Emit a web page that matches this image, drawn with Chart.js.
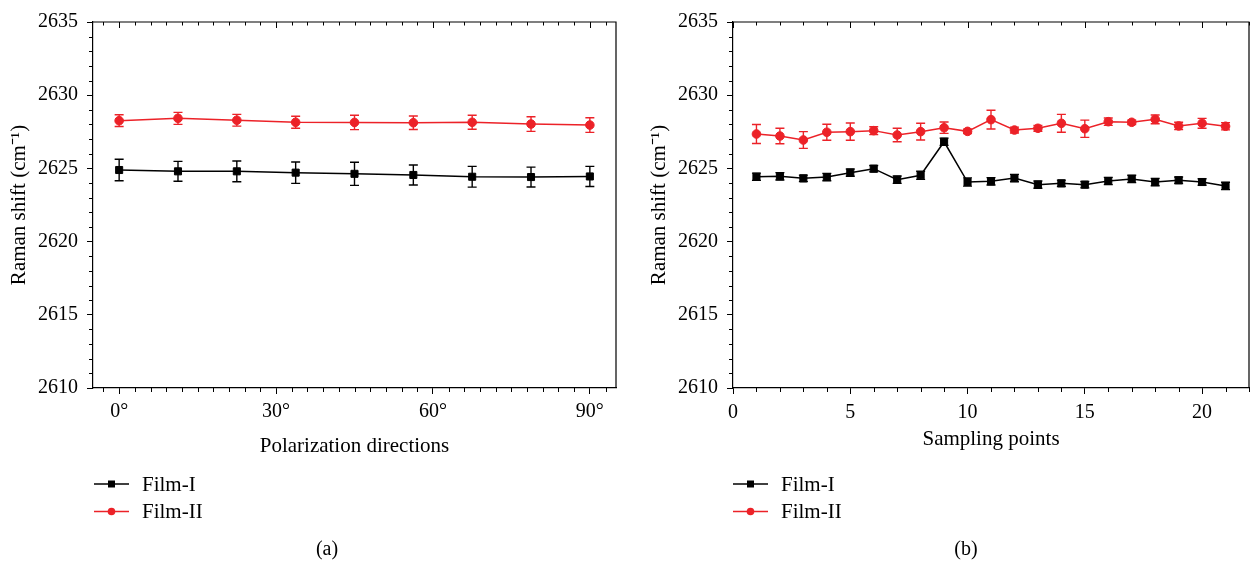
<!DOCTYPE html>
<html>
<head>
<meta charset="utf-8">
<script src="https://cdn.jsdelivr.net/npm/chart.js@4.4.0/dist/chart.umd.min.js"></script>
<style>
html, body { margin: 0; padding: 0; background: #fff; width: 1255px; height: 565px; overflow: hidden; }
canvas { position: absolute; top: 0; }
#ca { left: 0; }
#cb { left: 640px; }
.cap { position: absolute; top: 537px; font: 20px "Liberation Serif", "Times New Roman", serif; line-height: 22px; color: #000; transform: translateX(-50%); white-space: nowrap; }
</style>
</head>
<body>
<canvas id="ca" width="640" height="565"></canvas>
<canvas id="cb" width="615" height="565"></canvas>
<div class="cap" id="capA" style="left:327px">(a)</div>
<div class="cap" id="capB" style="left:966px">(b)</div>
<script>
// ---------- data ----------
const seriesNames = ['Film-I', 'Film-II'];
const captions = ['(a)', '(b)'];

const anglesA = [0, 11.25, 22.5, 33.75, 45, 56.25, 67.5, 78.75, 90];
const film1A = [2624.89, 2624.80, 2624.80, 2624.71, 2624.63, 2624.55, 2624.43, 2624.41, 2624.45];
const film1AErr = [0.73, 0.68, 0.71, 0.73, 0.79, 0.68, 0.71, 0.68, 0.69];
const film2A = [2628.26, 2628.42, 2628.29, 2628.15, 2628.14, 2628.12, 2628.15, 2628.03, 2627.96];
const film2AErr = [0.40, 0.41, 0.40, 0.41, 0.49, 0.46, 0.48, 0.50, 0.50];

const pointsB = [1, 2, 3, 4, 5, 6, 7, 8, 9, 10, 11, 12, 13, 14, 15, 16, 17, 18, 19, 20, 21];
const film1B = [2624.43, 2624.46, 2624.32, 2624.41, 2624.71, 2624.98, 2624.23, 2624.53, 2626.82, 2624.07, 2624.12,
                2624.34, 2623.89, 2623.98, 2623.89, 2624.14, 2624.28, 2624.07, 2624.19, 2624.07, 2623.80];
const film1BErr = [0.25, 0.25, 0.22, 0.25, 0.25, 0.22, 0.25, 0.28, 0.25, 0.28, 0.25,
                   0.25, 0.25, 0.22, 0.22, 0.25, 0.25, 0.25, 0.22, 0.22, 0.25];
const film2B = [2627.35, 2627.21, 2626.94, 2627.47, 2627.51, 2627.58, 2627.28, 2627.51, 2627.78, 2627.53, 2628.33,
                2627.62, 2627.74, 2628.08, 2627.71, 2628.19, 2628.15, 2628.35, 2627.90, 2628.08, 2627.88];
const film2BErr = [0.65, 0.53, 0.57, 0.55, 0.59, 0.27, 0.46, 0.57, 0.39, 0.15, 0.64,
                   0.20, 0.20, 0.61, 0.59, 0.25, 0.15, 0.30, 0.25, 0.34, 0.25];

const yTicks = [2610, 2615, 2620, 2625, 2630, 2635];
const xTicksA = [0, 30, 60, 90];
const xTicksB = [0, 5, 10, 15, 20];

// ---------- styling ----------
const FONT = '"Liberation Serif", "Times New Roman", serif';
const BLACK = '#000000';
const RED = '#ec2228';
Chart.defaults.font.family = FONT;
Chart.defaults.color = '#000';

// box, top ticks and minor ticks
const boxPlugin = {
  id: 'boxTicks',
  afterDraw(chart, args, o) {
    const { ctx, chartArea: a, scales: { x, y } } = chart;
    ctx.save();
    ctx.strokeStyle = '#000';
    ctx.lineWidth = 1.2;
    ctx.beginPath();
    ctx.moveTo(a.left, a.top);
    ctx.lineTo(a.right, a.top);
    ctx.lineTo(a.right, a.bottom);
    ctx.stroke();
    ctx.lineWidth = 1;
    ctx.beginPath();
    for (let v = Math.ceil(x.min / o.xMinor) * o.xMinor; v <= x.max + 1e-9; v += o.xMinor) {
      const px = Math.round(x.getPixelForValue(v)) + 0.5;
      const major = o.xMajor.indexOf(v) >= 0;
      ctx.moveTo(px, a.top);
      ctx.lineTo(px, a.top + (major ? 6 : 3.5));
      if (!major) {
        ctx.moveTo(px, a.bottom);
        ctx.lineTo(px, a.bottom + 4);
      }
    }
    for (let v = Math.ceil(y.min / o.yMinor) * o.yMinor; v <= y.max + 1e-9; v += o.yMinor) {
      const major = o.yMajor.indexOf(v) >= 0;
      if (major) continue;
      const py = Math.round(y.getPixelForValue(v)) + 0.5;
      ctx.moveTo(a.left - 4, py);
      ctx.lineTo(a.left, py);
    }
    ctx.stroke();
    ctx.restore();
  }
};

// error bars
const errorPlugin = {
  id: 'errBars',
  afterDatasetsDraw(chart) {
    const { ctx, scales: { y } } = chart;
    chart.data.datasets.forEach((ds, i) => {
      const meta = chart.getDatasetMeta(i);
      ctx.save();
      ctx.strokeStyle = ds.borderColor;
      ctx.lineWidth = 1.4;
      ctx.beginPath();
      meta.data.forEach((pt, j) => {
        const v = ds.data[j].y, e = ds.errors[j];
        const y1 = y.getPixelForValue(v + e), y2 = y.getPixelForValue(v - e);
        const x = pt.x;
        ctx.moveTo(x, y1); ctx.lineTo(x, y2);
        ctx.moveTo(x - 4.5, y1); ctx.lineTo(x + 4.5, y1);
        ctx.moveTo(x - 4.5, y2); ctx.lineTo(x + 4.5, y2);
      });
      ctx.stroke();
      ctx.restore();
    });
  }
};

// legend below plot (vertical list)
const legendPlugin = {
  id: 'sideLegend',
  afterDraw(chart, args, o) {
    const { ctx } = chart;
    ctx.save();
    chart.data.datasets.forEach((ds, i) => {
      const cy = o.y + i * o.gap;
      ctx.strokeStyle = ds.borderColor;
      ctx.lineWidth = 1.5;
      ctx.beginPath();
      ctx.moveTo(o.x, cy);
      ctx.lineTo(o.x + 35, cy);
      ctx.stroke();
      ctx.fillStyle = ds.backgroundColor;
      const cx = o.x + 17.5;
      if (ds.pointStyle === 'rect') {
        ctx.fillRect(cx - 3.5, cy - 3.5, 7, 7);
      } else {
        ctx.beginPath();
        ctx.arc(cx, cy, 3.8, 0, Math.PI * 2);
        ctx.fill();
      }
      ctx.fillStyle = '#000';
      ctx.font = '21px ' + FONT;
      ctx.textAlign = 'left';
      ctx.textBaseline = 'middle';
      ctx.fillText(ds.label, o.x + 48, cy + 1);
    });
    ctx.restore();
  }
};

function makeSets(xs, v1, e1, v2, e2) {
  return [
    {
      label: seriesNames[0],
      data: xs.map((x, i) => ({ x: x, y: v1[i] })),
      errors: e1,
      borderColor: BLACK, backgroundColor: BLACK,
      borderWidth: 1.5, pointStyle: 'rect', pointRadius: 5, pointBorderWidth: 1,
      pointBackgroundColor: BLACK, pointBorderColor: BLACK, tension: 0
    },
    {
      label: seriesNames[1],
      data: xs.map((x, i) => ({ x: x, y: v2[i] })),
      errors: e2,
      borderColor: RED, backgroundColor: RED,
      borderWidth: 1.5, pointStyle: 'circle', pointRadius: 4.3, pointBorderWidth: 1,
      pointBackgroundColor: RED, pointBorderColor: RED, tension: 0
    }
  ];
}

function makeChart(id, cfg) {
  return new Chart(document.getElementById(id), {
    type: 'line',
    data: { datasets: cfg.datasets },
    plugins: [errorPlugin, boxPlugin, legendPlugin],
    options: {
      responsive: false, animation: false, devicePixelRatio: 1,
      layout: { padding: { left: 0, top: 22, right: cfg.padRight, bottom: 565 - 388 - cfg.xHeight } },
      plugins: {
        legend: { display: false },
        tooltip: { enabled: false },
        boxTicks: { xMinor: cfg.xMinor, xMajor: cfg.xTicks, yMinor: 1, yMajor: yTicks },
        sideLegend: { x: cfg.legendX, y: 484, gap: 27.5 }
      },
      scales: {
        x: {
          type: 'linear', min: cfg.xMin, max: cfg.xMax,
          afterBuildTicks: s => { s.ticks = cfg.xTicks.map(v => ({ value: v })); },
          afterFit: s => { s.height = cfg.xHeight; s.paddingLeft = 0; s.paddingRight = 0; },
          ticks: { font: { size: 20 }, color: '#000', padding: cfg.xPad, maxRotation: 0, autoSkip: false, callback: cfg.fmt },
          grid: { display: true, drawOnChartArea: false, drawTicks: true, tickLength: 6, color: '#000', tickWidth: 1 },
          border: { display: true, color: '#000', width: 1.2 },
          title: { display: true, text: cfg.xTitle, font: { size: 21 }, color: '#000', padding: { top: 0, bottom: 0 } }
        },
        y: {
          type: 'linear', min: 2610, max: 2635,
          afterBuildTicks: s => { s.ticks = yTicks.map(v => ({ value: v })); },
          afterFit: s => { s.width = 93; },
          ticks: { font: { size: 20 }, color: '#000', padding: 9, autoSkip: false, callback: v => String(v) },
          grid: { display: true, drawOnChartArea: false, drawTicks: true, tickLength: 6, color: '#000', tickWidth: 1 },
          border: { display: true, color: '#000', width: 1.2 },
          title: { display: true, text: 'Raman shift (cm\u207B\u00B9)', font: { size: 21 }, color: '#000', padding: { top: 7, bottom: 0 } }
        }
      }
    }
  });
}

makeChart('ca', {
  datasets: makeSets(anglesA, film1A, film1AErr, film2A, film2AErr),
  xMin: -5, xMax: 95, xTicks: xTicksA, xMinor: 3, xPad: 6, xHeight: 71,
  fmt: v => v + '\u00B0', xTitle: 'Polarization directions',
  padRight: 24, legendX: 94
});

makeChart('cb', {
  datasets: makeSets(pointsB, film1B, film1BErr, film2B, film2BErr),
  xMin: 0, xMax: 22, xTicks: xTicksB, xMinor: 1, xPad: 7, xHeight: 64,
  fmt: v => String(v), xTitle: 'Sampling points',
  padRight: 1, legendX: 93
});

document.getElementById('capA').textContent = captions[0];
document.getElementById('capB').textContent = captions[1];
</script>
</body>
</html>
